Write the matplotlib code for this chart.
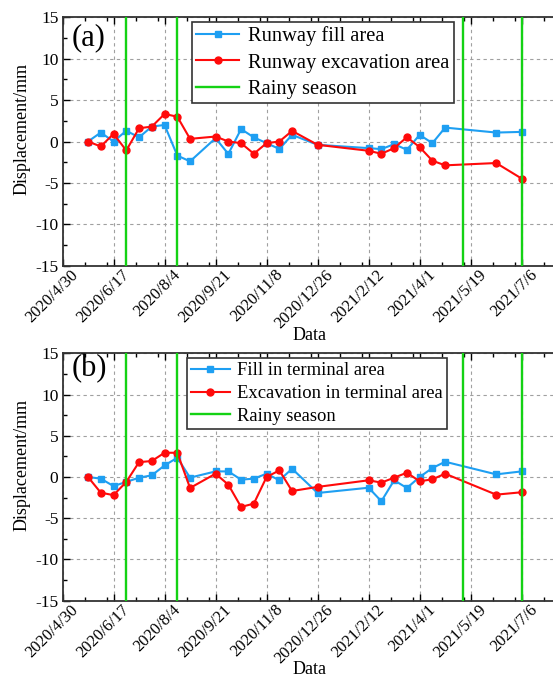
import matplotlib
matplotlib.use("Agg")
import matplotlib.pyplot as plt
import matplotlib.transforms as mtransforms
import numpy as np
from datetime import datetime, timedelta

plt.rcParams['font.family'] = ['Liberation Serif', 'DejaVu Serif']
plt.rcParams['axes.unicode_minus'] = False

# ---------------- data ----------------
dates = ['2020-05-24', '2020-06-05', '2020-06-17', '2020-06-29', '2020-07-11',
         '2020-07-23', '2020-08-04', '2020-08-16', '2020-08-28', '2020-09-21',
         '2020-10-03', '2020-10-15', '2020-10-27', '2020-11-08', '2020-11-20',
         '2020-12-02', '2020-12-26', '2021-02-12', '2021-02-24', '2021-03-08',
         '2021-03-20', '2021-04-01', '2021-04-13', '2021-04-25', '2021-06-12',
         '2021-07-06']

runway_fill = [0.0, 1.08, 0.0, 1.3, 0.5, 1.8, 2.0, -1.7, -2.4, 0.4,
               -1.5, 1.5, 0.5, -0.2, -0.9, 0.8, -0.4, -0.8, -0.92, -0.32,
               -1.0, 0.8, -0.2, 1.68, 1.08, 1.16]
runway_exc = [0.0, -0.6, 0.92, -1.08, 1.6, 1.8, 3.32, 3.0, 0.32, 0.6,
              0.0, -0.2, -1.48, -0.2, 0.0, 1.28, -0.4, -1.12, -1.48, -0.8,
              0.52, -0.68, -2.32, -2.88, -2.6, -4.48]

terminal_fill = [0.0, -0.2, -1.1, -0.6, -0.08, 0.2, 1.4, 2.34, -0.08, 0.68,
                 0.68, -0.32, -0.2, 0.4, -0.4, 1.0, -1.94, -1.3, -2.94, -0.4,
                 -1.33, 0.0, 1.09, 1.85, 0.32, 0.68]
terminal_exc = [0.0, -1.9, -2.2, -0.6, 1.8, 1.94, 2.94, 2.94, -1.33, 0.4,
                -0.93, -3.63, -3.23, 0.0, 0.8, -1.7, -1.2, -0.4, -0.68, -0.08,
                0.52, -0.52, -0.28, 0.4, -2.14, -1.85]

rainy_dates = ['2020-06-29', '2020-08-16', '2021-05-12', '2021-07-06']

tick_labels = ['2020/4/30', '2020/6/17', '2020/8/4', '2020/9/21', '2020/11/8',
               '2020/12/26', '2021/2/12', '2021/4/1', '2021/5/19', '2021/7/6']
# ---------------------------------------

def to_dt(s):
    return datetime.strptime(s, '%Y-%m-%d')

x = [to_dt(d) for d in dates]
rain = [to_dt(d) for d in rainy_dates]
ticks = [datetime.strptime(t, '%Y/%m/%d') for t in tick_labels]
xmin = ticks[0]
xmax = ticks[-1] + timedelta(days=48)
minor = []
for t in ticks:
    for k in (21, 42):
        m = t + timedelta(days=k)
        if m < xmax:
            minor.append(m)

BLUE = '#1e9ff2'
RED = '#ff0a0a'
GREEN = '#14d214'

W, H = 553, 680
fig = plt.figure(figsize=(W / 100, H / 100), dpi=100)

def px(xp, yp):
    return xp / W, 1 - yp / H

def make_panel(rect, fill, exc, labels, letter, letter_y, leg_xy, leg_fs, lsp):
    ax = fig.add_axes(rect)
    ax.plot(x, fill, '-s', color=BLUE, lw=1.5, ms=4.6, label=labels[0], zorder=3)
    ax.plot(x, exc, '-o', color=RED, lw=1.5, ms=5.0, label=labels[1], zorder=4)
    for i, r in enumerate(rain):
        ax.axvline(r, color=GREEN, lw=1.7, zorder=5,
                   label=labels[2] if i == 0 else None)
    ax.set_yticks(np.arange(-15, 16, 5))
    ax.set_yticks(np.arange(-15, 15.1, 2.5), minor=True)
    ax.set_xticks(ticks)
    ax.set_xticks(minor, minor=True)
    ax.set_xlim(xmin, xmax)
    ax.set_ylim(-15, 15)
    ax.tick_params(axis='both', which='major', direction='in', length=5,
                   width=1, top=True, right=True, labelsize=12.5, pad=3)
    ax.tick_params(axis='x', which='major', labelbottom=False)
    ax.tick_params(axis='both', which='minor', direction='in', length=3,
                   width=1, top=True, right=True)
    # rotated date labels, anchored at each tick through a blended transform
    base = mtransforms.blended_transform_factory(ax.transData, ax.transAxes)
    off = mtransforms.ScaledTranslation(8 / 100, -1 / 100, fig.dpi_scale_trans)
    for t, lab in zip(ticks, tick_labels):
        ax.text(t, 0, lab, transform=base + off, rotation=45, ha='right',
                va='top', rotation_mode='anchor', fontsize=12, clip_on=False)
    ax.grid(True, which='major', ls=(0, (3, 3)), color='#a0a0a0', lw=0.8)
    for s in ax.spines.values():
        s.set_linewidth(1.3)
        s.set_color('#333333')
    ax.set_xlabel('Data', fontsize=13, va='center')
    ax.xaxis.set_label_coords(0.485, -0.279)
    ax.set_ylabel('Displacement/mm', fontsize=13, va='center')
    ax.yaxis.set_label_coords(-0.079, 0.55)
    ax.text(0.052, letter_y, letter, transform=ax.transAxes, fontsize=22,
            ha='center', va='center')
    leg = ax.legend(loc='upper left', bbox_to_anchor=px(*leg_xy),
                    bbox_transform=fig.transFigure, fontsize=leg_fs,
                    frameon=True, fancybox=False, edgecolor='#333333',
                    framealpha=1, borderaxespad=0, borderpad=0.22,
                    labelspacing=lsp, handlelength=2.1, handletextpad=0.4)
    leg.get_frame().set_linewidth(1.2)
    return ax

def rect_from_px(left, top, right, bottom):
    return [left / W, 1 - bottom / H, (right - left) / W, (bottom - top) / H]

ax1 = make_panel(rect_from_px(62.5, 17.3, 572.7, 265.7), runway_fill, runway_exc,
                 ['Runway fill area', 'Runway excavation area', 'Rainy season'],
                 '(a)', 0.917, (191.7, 22), 14.8, 0.33)
ax2 = make_panel(rect_from_px(62.5, 353.3, 572.7, 600.7), terminal_fill, terminal_exc,
                 ['Fill in terminal area', 'Excavation in terminal area', 'Rainy season'],
                 '(b)', 0.937, (186.7, 358.3), 13.4, 0.3)

fig.savefig('out.png', dpi=100)
